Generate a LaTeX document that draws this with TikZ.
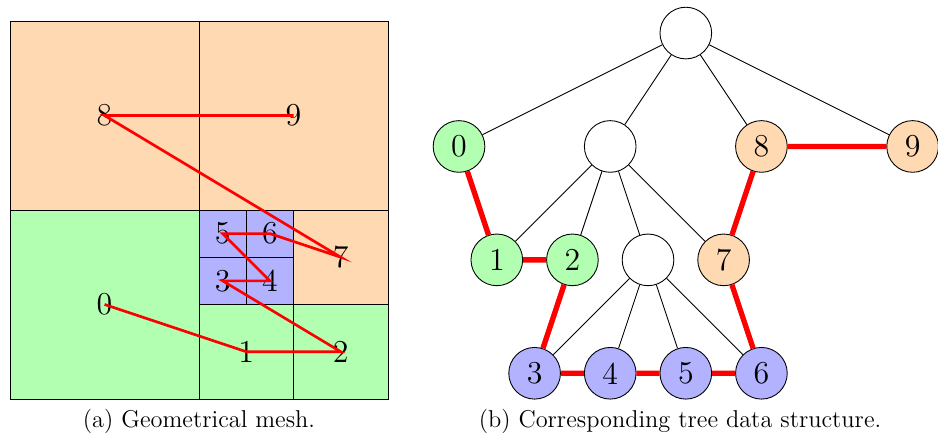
\documentclass[tikz,border=0pt]{standalone}
\usepackage{tikz}
\usetikzlibrary{positioning}
\tikzset{
    cellg/.style={draw, fill=green!30},
    cello/.style={draw, fill=orange!30},
    cellb/.style={draw, fill=blue!30},
    lbl/.style={inner sep=0pt, font=\Large},
    nd/.style={circle, draw, minimum size=0.82cm, inner sep=0pt, font=\Large},
    ndg/.style={nd, fill=green!30},
    ndo/.style={nd, fill=orange!30},
    ndb/.style={nd, fill=blue!30},
    sfc/.style={red, very thick},
    sfct/.style={red, line width=2.4pt},
    ed/.style={black},
    captxt/.style={font=\fontsize{11}{13}\selectfont},
}
\begin{document}
\begin{tikzpicture}
    \useasboundingbox (-0.159,-0.698) rectangle (14.730,6.333);
    % (a) Mesh cells
    \draw [cello] (0,3) rectangle (3,6);
    \draw [cello] (3,3) rectangle (6,6);
    \draw [cello] (4.5,1.5) rectangle (6,3);
    \draw [cellg] (0,0) rectangle (3,3);
    \draw [cellg] (3,0) rectangle (4.5,1.5);
    \draw [cellg] (4.5,0) rectangle (6,1.5);
    \foreach \i in {0,1} {
        \foreach \j in {0,1} {
            \draw [cellb] (3+0.75*\i,1.5+0.75*\j) rectangle ++(0.75,0.75);
        }
    }
    % Cell numbers
    \node [lbl] (m0) at (1.5,1.5) {0};
    \node [lbl] (m1) at (3.75,0.75) {1};
    \node [lbl] (m2) at (5.25,0.75) {2};
    \node [lbl] (m3) at (3.375,1.875) {3};
    \node [lbl] (m4) at (4.125,1.875) {4};
    \node [lbl] (m5) at (3.375,2.625) {5};
    \node [lbl] (m6) at (4.125,2.625) {6};
    \node [lbl] (m7) at (5.25,2.25) {7};
    \node [lbl] (m8) at (1.5,4.5) {8};
    \node [lbl] (m9) at (4.5,4.5) {9};
    % Space-filling curve
    \draw [sfc] (m0.center) -- (m1.center) -- (m2.center) -- (m3.center)
        -- (m4.center) -- (m5.center) -- (m6.center) -- (m7.center)
        -- (m8.center) -- (m9.center);
    \node [captxt] (capa) at (3,-0.36) {(a) Geometrical mesh.};

    % (b) Tree
    \begin{scope}[shift={(7.127,0.408)}, x=1.2cm, y=1.8cm]
        \node [nd] (tr) at (3,3) {};
        % Level 1
        \node [ndg] (t0) at (0,2) {0};
        \node [nd]  (ta) at (2,2) {};
        \node [ndo] (t8) at (4,2) {8};
        \node [ndo] (t9) at (6,2) {9};
        % Level 2
        \node [ndg] (t1) at (0.5,1) {1};
        \node [ndg] (t2) at (1.5,1) {2};
        \node [nd]  (tb) at (2.5,1) {};
        \node [ndo] (t7) at (3.5,1) {7};
        % Level 3
        \node [ndb] (t3) at (1,0) {3};
        \node [ndb] (t4) at (2,0) {4};
        \node [ndb] (t5) at (3,0) {5};
        \node [ndb] (t6) at (4,0) {6};
    \end{scope}
    % Tree edges
    \foreach \c in {t0,ta,t8,t9} \draw [ed] (tr) -- (\c);
    \foreach \c in {t1,t2,tb,t7} \draw [ed] (ta) -- (\c);
    \foreach \c in {t3,t4,t5,t6} \draw [ed] (tb) -- (\c);
    % Curve order
    \draw [sfct] (t0) -- (t1) -- (t2) -- (t3) -- (t4) -- (t5) -- (t6)
        -- (t7) -- (t8) -- (t9);
    \node [captxt] (capb) at (10.635,-0.36) {(b) Corresponding tree data structure.};
\end{tikzpicture}
\end{document}
